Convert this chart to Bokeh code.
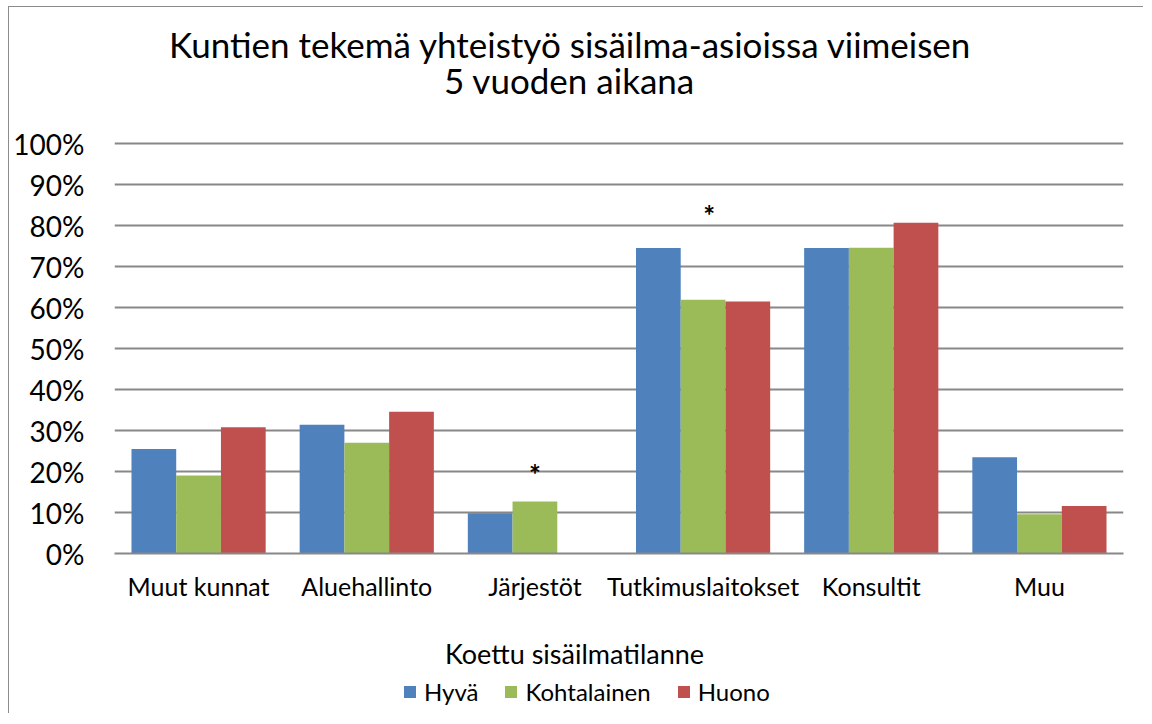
from bokeh.plotting import figure
from bokeh.layouts import column
from bokeh.models import (ColumnDataSource, FactorRange, FixedTicker, NumeralTickFormatter,
                          Label, Legend, LegendItem, Range1d)
from bokeh.transform import dodge
from bokeh.core.properties import value
from bokeh.embed import file_html
from bokeh.resources import INLINE

categories = ["Muut kunnat", "Aluehallinto", "Järjestöt", "Tutkimuslaitokset", "Konsultit", "Muu"]
hyva = [0.255, 0.314, 0.098, 0.745, 0.745, 0.235]
kohtalainen = [0.190, 0.270, 0.127, 0.619, 0.746, 0.096]
huono = [0.308, 0.346, 0.0, 0.615, 0.807, 0.116]
series_names = ["Hyvä", "Kohtalainen", "Huono"]
colors = ["#4F81BD", "#9BBB59", "#C0504D"]
star_categories = ["Järjestöt", "Tutkimuslaitokset"]
star_values = [0.194, 0.825]
star_offsets = [0, 6]
y_ticks = [i / 10 for i in range(11)]
title_lines = ["Kuntien tekemä yhteistyö sisäilma-asioissa viimeisen", "5 vuoden aikana"]
legend_title = "Koettu sisäilmatilanne"

FONT = "Lato"
GRID = "#888888"
W = 1134
HEAD_H = 116
CHART_H = 490
FOOT_H = 100
FX0, FX1 = 114, 1123   # page x of the aligned plot frames


def blank(height):
    f = figure(width=W, height=height, x_range=Range1d(FX0, FX1), y_range=Range1d(0, height),
               x_axis_type=None, y_axis_type=None, output_backend="svg",
               toolbar_location=None, min_border=0)
    f.outline_line_color = None
    f.grid.visible = False
    return f


# ---- header with the two-line title
head = blank(HEAD_H)
for txt, xx, yy in zip(title_lines, [570, 569], [HEAD_H - 36, HEAD_H - 72]):
    head.add_layout(Label(x=xx, y=yy, text=txt, text_font=FONT, text_font_size="35px",
                          text_align="center", text_baseline="middle", text_color="black"))

# ---- chart
src = ColumnDataSource(dict(cat=categories, hyva=hyva, kohtalainen=kohtalainen, huono=huono))
star_src = ColumnDataSource(dict(cat=star_categories, y=star_values, xo=star_offsets,
                                 t=["*"] * len(star_categories)))

p = figure(x_range=FactorRange(*categories, range_padding=0), y_range=Range1d(0, 1.005),
           width=W, height=CHART_H, output_backend="svg", toolbar_location=None,
           min_border_left=105, min_border_right=20, min_border_top=18, min_border_bottom=60)
p.outline_line_color = None

bw = 0.266
for i, (field, c) in enumerate(zip(["hyva", "kohtalainen", "huono"], colors)):
    p.vbar(x=dodge("cat", (i - 1) * bw, range=p.x_range), top=field, width=bw,
           source=src, fill_color=c, line_color=None)

p.text(x="cat", y="y", text="t", x_offset="xo", source=star_src,
       text_font=value(FONT), text_font_size="28px", text_font_style="bold",
       text_align="center", text_baseline="middle", text_color="black")

p.yaxis.ticker = FixedTicker(ticks=y_ticks)
p.yaxis.formatter = NumeralTickFormatter(format="0%")
p.yaxis.axis_line_color = None
p.yaxis.major_tick_line_color = None
p.yaxis.minor_tick_line_color = None
p.yaxis.major_tick_out = 0
p.yaxis.major_tick_in = 0
p.yaxis.minor_tick_out = 0
p.yaxis.major_label_standoff = 30
p.yaxis.major_label_text_font = FONT
p.yaxis.major_label_text_font_size = "28px"
p.yaxis.major_label_text_color = "black"

p.xaxis.axis_line_color = GRID
p.xaxis.axis_line_width = 2
p.xaxis.major_tick_line_color = None
p.xaxis.minor_tick_line_color = None
p.xaxis.major_tick_out = 0
p.xaxis.major_tick_in = 0
p.xaxis.minor_tick_out = 0
p.xaxis.major_label_standoff = 17
p.xaxis.major_label_text_font = FONT
p.xaxis.major_label_text_font_size = "25px"
p.xaxis.major_label_text_color = "black"

p.xgrid.grid_line_color = None
p.ygrid.grid_line_color = GRID
p.ygrid.grid_line_width = 2
p.ygrid.ticker = FixedTicker(ticks=y_ticks)

# ---- footer with the legend
foot = blank(FOOT_H)
foot.add_layout(Label(x=574, y=FOOT_H - 40, text=legend_title, text_font=FONT,
                      text_font_size="27px", text_align="center", text_baseline="middle",
                      text_color="black"))
# legend swatches only (their single point lies outside the visible range)
swatch = ColumnDataSource(dict(x=[-1000], top=[-1000]))
leg_renderers = [foot.vbar(x="x", top="top", width=1, source=swatch, fill_color=c, line_color=None)
                 for c in colors]
legend = Legend(items=[LegendItem(label=n, renderers=[r]) for n, r in zip(series_names, leg_renderers)],
                orientation="horizontal", location=(402 - FX0, 7),
                glyph_width=15, glyph_height=15, label_standoff=7, spacing=25,
                padding=0, margin=0, border_line_color=None, background_fill_alpha=0,
                label_text_font=FONT, label_text_font_size="24px", label_text_color="black")
foot.add_layout(legend, "center")

layout = column(head, p, foot, spacing=0)
layout.styles = {"margin-left": "8px", "margin-top": "6px",
                 "border-left": "1px solid #8c8c8c", "border-top": "1px solid #8c8c8c"}

open("out.html", "w").write(file_html(layout, INLINE))
